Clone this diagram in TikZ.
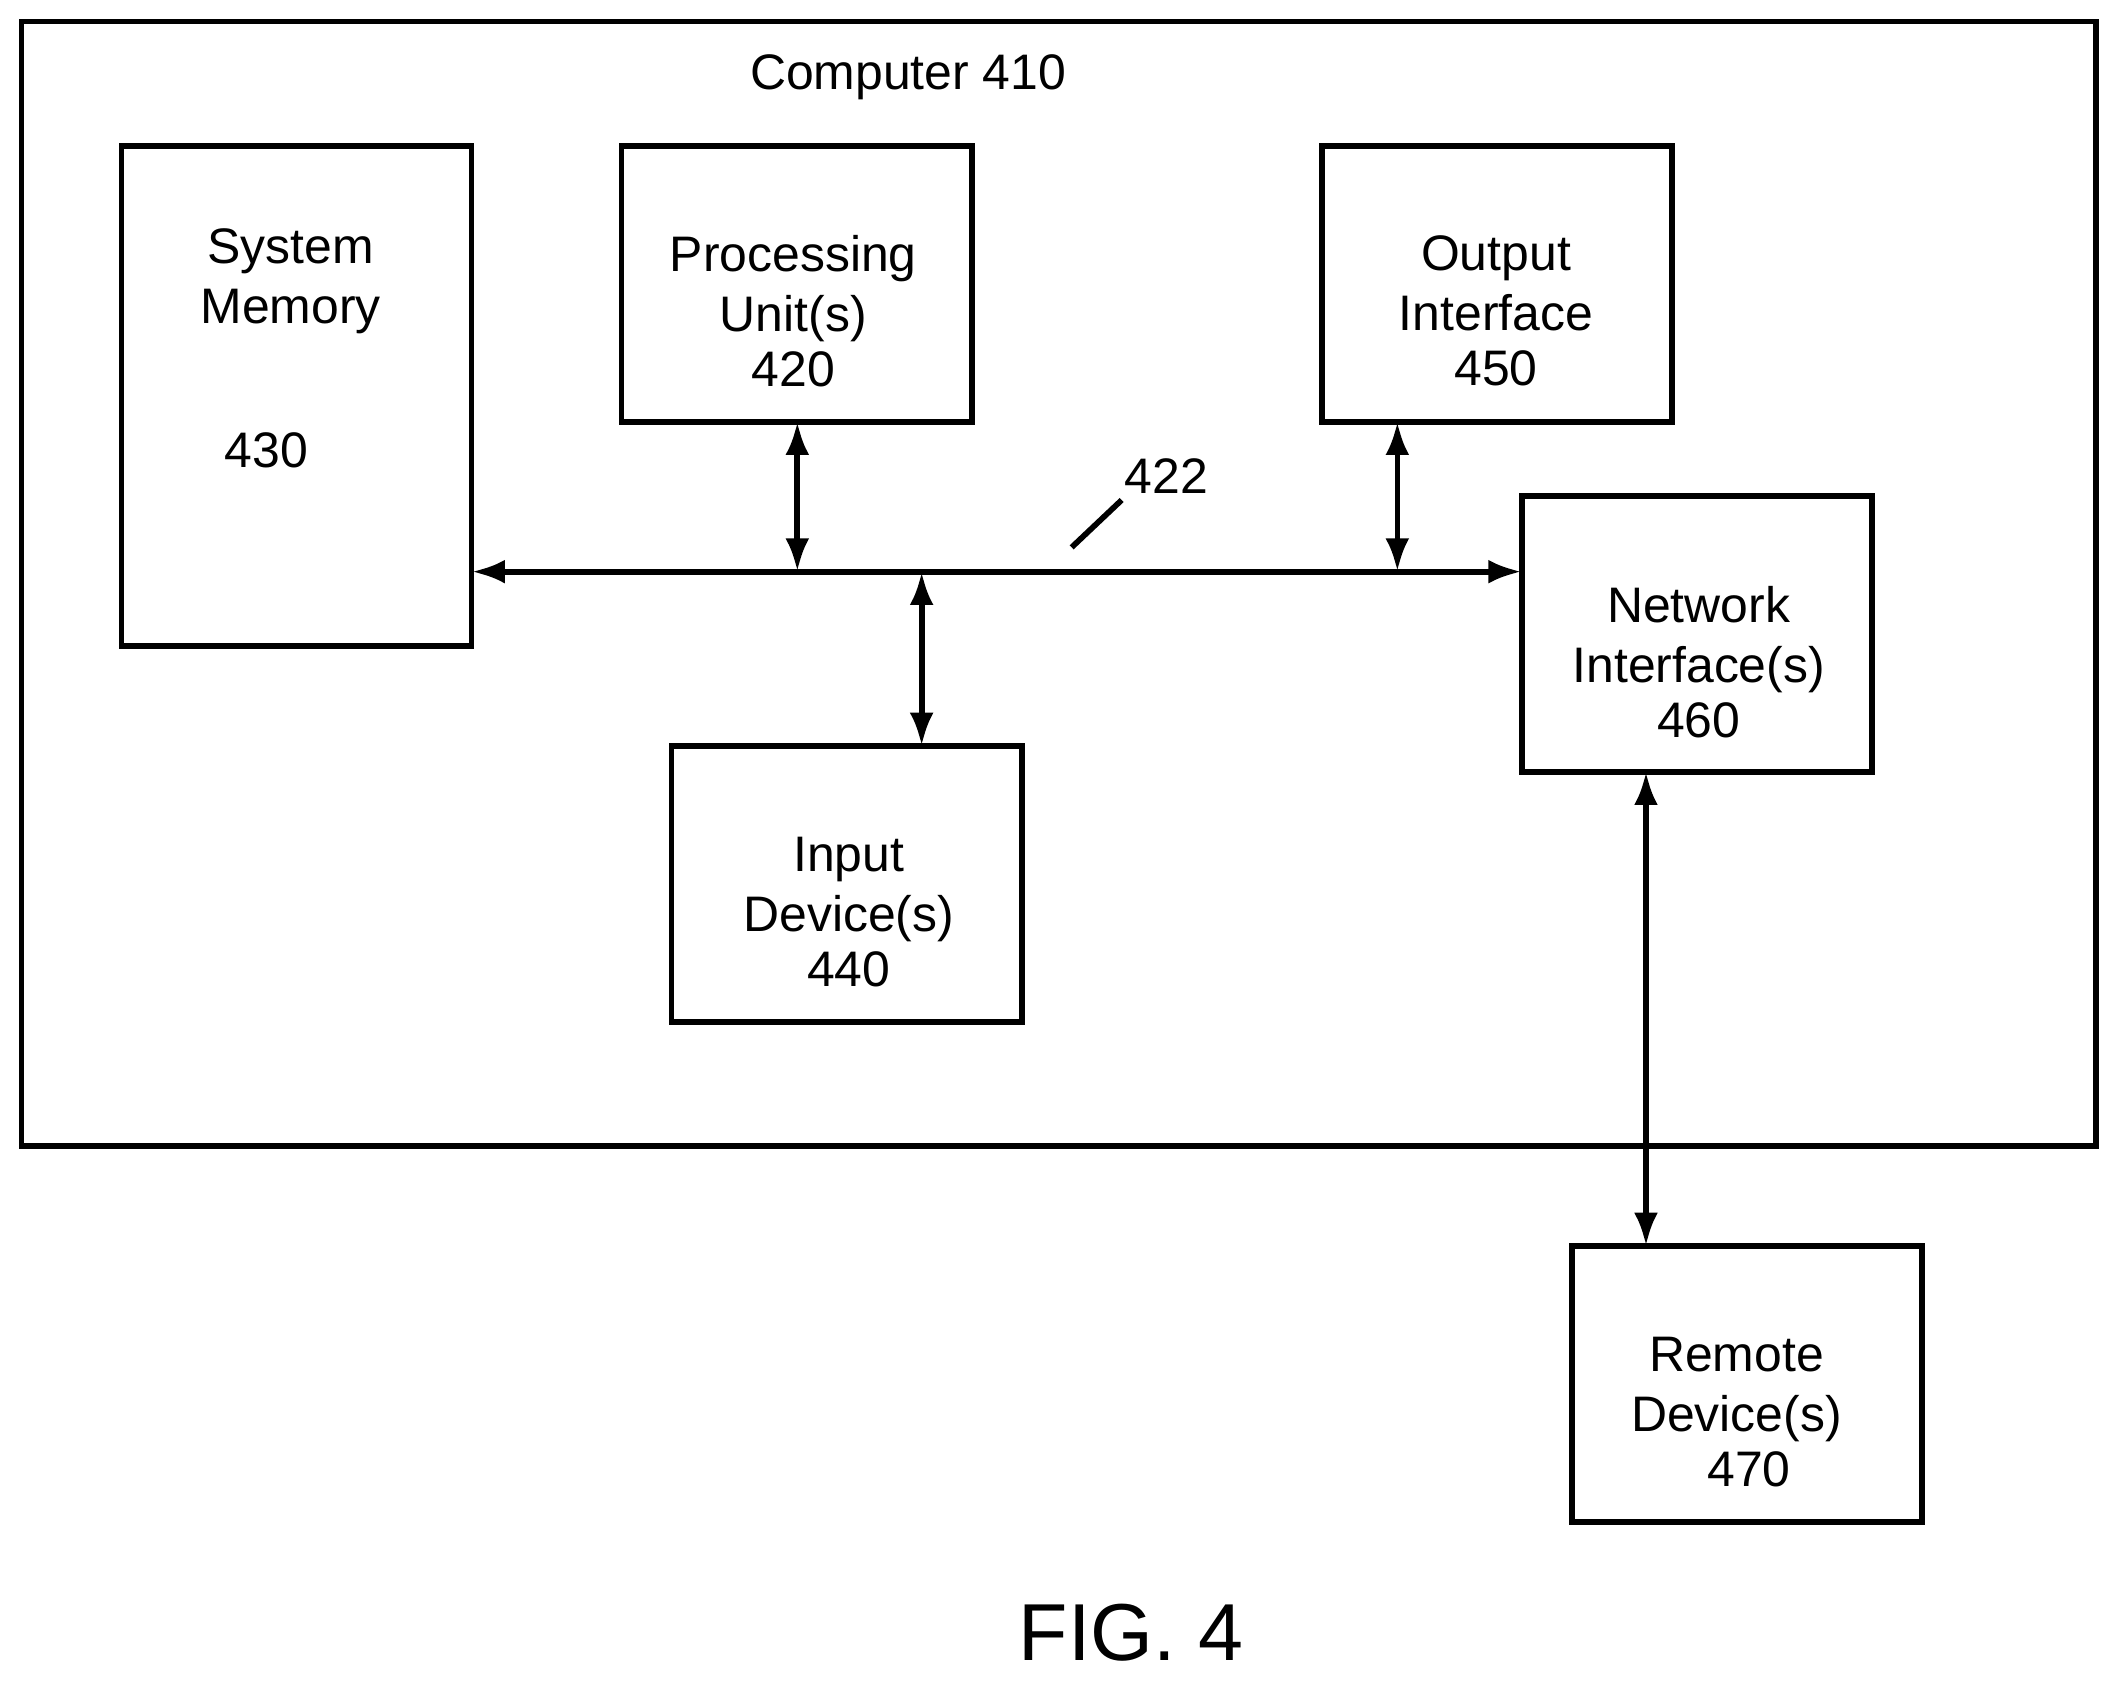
\documentclass[tikz,border=0pt]{standalone}
\usepackage{fontspec}
\setmainfont{Liberation Sans}
\usetikzlibrary{arrows.meta}
\begin{document}
\begin{tikzpicture}[x=0.01cm,y=-0.01cm,
 box/.style={draw,line width=1.2pt,inner sep=0},
 lab/.style={font=\fontsize{10.5pt}{12.6pt}\selectfont,align=center,inner sep=0},
 arr/.style={line width=1.2pt,{Latex[length=7pt,width=5pt]}-{Latex[length=7pt,width=5pt]}}]
\useasboundingbox (0,0) rectangle (1568,1244);
\draw[line width=1.2pt] (16,16) rectangle (1551,848);
\node[lab] (comp) at (672,57) {Computer 410};
\draw[box] (90,108) rectangle (349,478); \coordinate (smE) at (349,293);
\node[lab] (smt) at (215,208) {System\\Memory};
\node[lab] (smn) at (197,333) {430};
\draw[box] (460,108) rectangle (719,312); \coordinate (puS) at (590,312);
\node[lab] (put) at (587,230) {Processing\\Unit(s)\\[-1pt]420};
\draw[box] (978,108) rectangle (1237,312); \coordinate (oiS) at (1034,312);
\node[lab] (oit) at (1107,230) {Output\\Interface\\[-1pt]450};
\draw[box] (1126,367) rectangle (1385,571); \coordinate (niW) at (1126,423); \coordinate (niS) at (1218,571);
\node[lab] (nit) at (1257,490) {Network\\Interface(s)\\[-1pt]460};
\draw[box] (497,552) rectangle (756,756); \coordinate (idN) at (682,552);
\node[lab] (idt) at (628,675) {Input\\Device(s)\\[-1pt]440};
\draw[box] (1163,922) rectangle (1422,1126); \coordinate (rdN) at (1218,922);
\node[lab] (rdt) at (1285,1045) {Remote\\Device(s)\\[-1pt]\hspace*{0.5em}470};
\coordinate (busL) at (349,423);
\coordinate (bpu) at (590,423); \coordinate (bid) at (682,423); \coordinate (boi) at (1034,423);
\draw[arr] (busL) -- (niW);
\draw[arr] (puS) -- (bpu);
\draw[arr] (bid) -- (idN);
\draw[arr] (oiS) -- (boi);
\draw[arr] (niS) -- (rdN);
\node[lab] (bl) at (863,352) {422};
\coordinate (t1) at (793,405); \coordinate (t2) at (830,370);
\draw[line width=1.2pt] (t1) -- (t2);
\node[font=\fontsize{17pt}{20pt}\selectfont,inner sep=0] (fig) at (837,1208) {FIG. 4};
\end{tikzpicture}
\end{document}
